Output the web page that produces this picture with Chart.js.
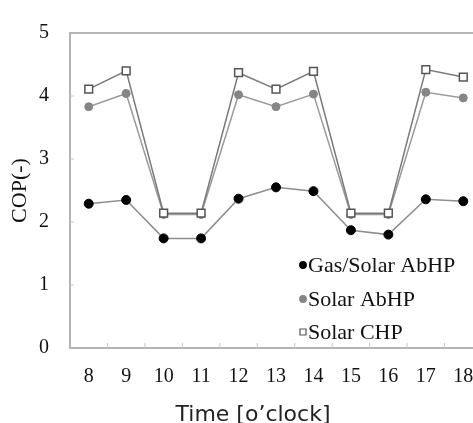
<!DOCTYPE html>
<html>
<head>
<meta charset="utf-8">
<script src="https://cdn.jsdelivr.net/npm/chart.js@4.4.1/dist/chart.umd.min.js"></script>
<style>
  html, body { margin: 0; padding: 0; background: #fff; overflow: hidden; }
  #wrap { width: 500px; height: 423px; }
</style>
</head>
<body>
<div id="wrap"><canvas id="myChart" width="500" height="423"></canvas></div>
<script>
// hours of the day
const hours = ['8', '9', '10', '11', '12', '13', '14', '15', '16', '17', '18'];
// COP values
const gasSolarAbhp = [2.29, 2.35, 1.74, 1.74, 2.37, 2.55, 2.49, 1.87, 1.80, 2.36, 2.33];
const solarAbhp = [3.83, 4.04, 2.12, 2.12, 4.02, 3.83, 4.03, 2.12, 2.12, 4.06, 3.97];
const solarChp = [4.11, 4.40, 2.14, 2.14, 4.37, 4.11, 4.39, 2.14, 2.14, 4.42, 4.30];
const yTicks = [0, 1, 2, 3, 4, 5];

const serif = '"Liberation Serif", "Times New Roman", serif';

// frame + inward tick marks
const framePlugin = {
    id: 'frame',
    beforeDatasetsDraw(chart) {
        const { ctx, chartArea: a, scales } = chart;
        ctx.save();
        ctx.strokeStyle = '#b4b4b4';
        ctx.lineWidth = 2;
        ctx.strokeRect(a.left, a.top, a.right - a.left, a.bottom - a.top);
        ctx.lineWidth = 1;
        ctx.strokeStyle = '#c8c8c8';
        yTicks.slice(1, -1).forEach(v => {
            const y = scales.y.getPixelForValue(v);
            ctx.beginPath();
            ctx.moveTo(a.left, y);
            ctx.lineTo(a.left + 4, y);
            ctx.stroke();
        });
        for (let i = 1; i < hours.length; i++) {
            const x = (scales.x.getPixelForValue(i - 1) + scales.x.getPixelForValue(i)) / 2;
            ctx.beginPath();
            ctx.moveTo(x, a.bottom);
            ctx.lineTo(x, a.bottom - 5);
            ctx.stroke();
        }
        ctx.restore();
    },
    afterDraw(chart) {
        const { ctx, chartArea: a } = chart;
        ctx.save();
        // legend inside the plot
        const lx = a.left + 233;
        const rows = [265, 299, 332];
        ctx.font = '22px ' + serif;
        ctx.textBaseline = 'middle';
        chart.data.datasets.forEach((ds, i) => {
            const y = rows[i];
            ctx.fillStyle = ds.pointBackgroundColor;
            ctx.strokeStyle = ds.pointBorderColor;
            ctx.lineWidth = 1.2;
            ctx.beginPath();
            if (ds.pointStyle === 'rect') {
                ctx.rect(lx - 3, y - 3, 6, 6);
            } else {
                ctx.arc(lx, y, 3.3, 0, Math.PI * 2);
            }
            ctx.fill();
            ctx.stroke();
            ctx.fillStyle = '#111';
            ctx.fillText(ds.label, lx + 5, y + 1);
        });
        // x axis title
        ctx.font = '22px "DejaVu Sans", sans-serif';
        ctx.fillStyle = '#222';
        ctx.textAlign = 'center';
        ctx.textBaseline = 'alphabetic';
        ctx.fillText('Time [o\u2019clock]', 253, 421);
        ctx.restore();
    }
};

const ctx = document.getElementById('myChart').getContext('2d');
const myChart = new Chart(ctx, {
    type: 'line',
    data: {
        labels: hours,
        datasets: [{
            label: 'Gas/Solar AbHP',
            data: gasSolarAbhp,
            borderColor: '#8e8e8e',
            borderWidth: 1.5,
            pointStyle: 'circle',
            pointRadius: 4.5,
            pointBackgroundColor: '#000',
            pointBorderColor: '#000',
            pointBorderWidth: 1,
            order: 2
        }, {
            label: 'Solar AbHP',
            data: solarAbhp,
            borderColor: '#9a9a9a',
            borderWidth: 1.5,
            pointStyle: 'circle',
            pointRadius: 4,
            pointBackgroundColor: '#858585',
            pointBorderColor: '#858585',
            pointBorderWidth: 1,
            order: 1
        }, {
            label: 'Solar CHP',
            data: solarChp,
            borderColor: '#7a7a7a',
            borderWidth: 1.5,
            pointStyle: 'rect',
            pointRadius: 5.5,
            pointBackgroundColor: '#fff',
            pointBorderColor: '#555',
            pointBorderWidth: 1.5,
            order: 0
        }]
    },
    options: {
        responsive: false,
        animation: false,
        layout: { padding: { top: 21, right: 18, left: 0, bottom: 0 } },
        plugins: {
            legend: { display: false },
            tooltip: { enabled: false }
        },
        scales: {
            x: {
                offset: true,
                grid: { display: false, drawTicks: false },
                border: { display: false },
                ticks: {
                    color: '#111',
                    font: { family: serif, size: 20 },
                    padding: 17,
                    maxRotation: 0,
                    autoSkip: false
                },
                afterFit(scale) { scale.height = 75; }
            },
            y: {
                min: 0,
                max: 5,
                grid: { display: false, drawTicks: false },
                border: { display: false },
                ticks: {
                    stepSize: 1,
                    color: '#111',
                    font: { family: serif, size: 20 },
                    padding: 21
                },
                title: {
                    display: true,
                    text: 'COP(-)',
                    color: '#111',
                    font: { family: serif, size: 22 },
                    padding: { top: 7, bottom: 0 }
                },
                afterFit(scale) { scale.width = 70; }
            }
        }
    },
    plugins: [framePlugin]
});
</script>
</body>
</html>
